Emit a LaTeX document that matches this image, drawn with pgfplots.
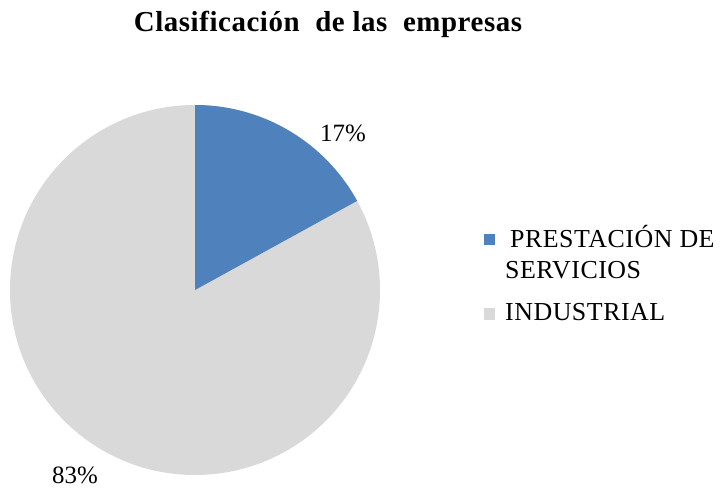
\documentclass[border=0pt]{standalone}
\usepackage{fontspec}
\setmainfont{Liberation Serif}
\usepackage{pgfplots}
\usepackage{pgfplotstable}
\pgfplotsset{compat=1.18}
\definecolor{servblue}{HTML}{4F81BD}
\definecolor{indgray}{HTML}{D9D9D9}

\pgfplotstableread{
tipo value
servicios 17
industrial 83
}\empresas

\begin{document}
\begin{tikzpicture}
\begin{axis}[
    scale only axis,
    width=720bp, height=488bp,
    xmin=0, xmax=720, ymin=0, ymax=488,
    hide axis, clip=false,
]
% full canvas for the bounding box
\path (axis cs:0,0) rectangle (axis cs:720,488);
\pgfplotstablegetelem{0}{value}\of\empresas
\pgfmathsetmacro{\va}{\pgfplotsretval}
\pgfmathsetmacro{\aend}{90-3.6*\va}
% slices (1 axis unit = 1bp in both directions)
\fill[indgray] (axis cs:195,198) -- (axis cs:195,383)
    arc[start angle=90, end angle=\aend-360, radius=185bp] -- cycle;
\fill[servblue] (axis cs:195,198) -- (axis cs:195,383)
    arc[start angle=90, end angle=\aend, radius=185bp] -- cycle;
% title
\node[anchor=base, font=\fontsize{29}{33}\selectfont\bfseries\addfontfeatures{LetterSpace=2}] at (axis cs:328,456)
    {Clasificación\ \ de las\ \ empresas};
% data labels
\node[anchor=base, font=\fontsize{25}{29}\selectfont] at (axis cs:343,346) {17\%};
\node[anchor=base, font=\fontsize{25}{29}\selectfont] at (axis cs:75,5) {83\%};
% legend
\fill[servblue] (axis cs:484,243) rectangle (axis cs:495,254);
\fill[indgray] (axis cs:484,168) rectangle (axis cs:495,180);
\begin{scope}[every node/.style={anchor=base west, inner sep=0pt,
    font=\fontsize{26}{30}\selectfont\addfontfeatures{LetterSpace=2}}]
\node at (axis cs:510,240) {PRESTACIÓN DE};
\node at (axis cs:505,210) {SERVICIOS};
\node at (axis cs:505,168) {INDUSTRIAL};
\end{scope}
\end{axis}
\end{tikzpicture}
\end{document}
